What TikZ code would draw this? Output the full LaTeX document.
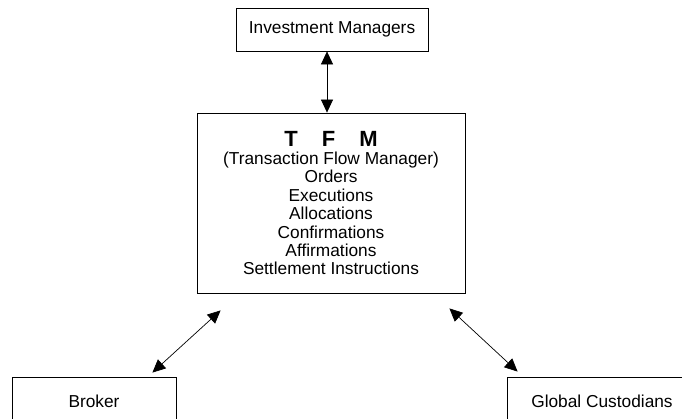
\documentclass[tikz,border=0pt]{standalone}
\usepackage{fontspec}
\setmainfont{Liberation Sans}
\usetikzlibrary{arrows.meta}

\begin{document}
\begin{tikzpicture}[x=1pt,y=-1pt,
  box/.style={draw,line width=0.8pt,inner sep=0pt,font=\fontsize{17.3}{18.4}\selectfont},
  link/.style={line width=0.7pt,{Triangle[length=13pt,width=12pt]}-{Triangle[length=13pt,width=12pt]}}]
\useasboundingbox (0,0) rectangle (682,419);
% Boxes
\node[box,minimum width=192,minimum height=43] (im) at (332,29.5) {Investment Managers};
\node[box,minimum width=268,minimum height=180,align=center] (tfm) at (331,203)
  {{\fontsize{22}{22}\selectfont\bfseries T\hspace{24pt}F\hspace{24pt}M}\\
   (Transaction Flow Manager)\\ Orders\\ Executions\\ Allocations\\
   Confirmations\\ Affirmations\\ Settlement Instructions};
\node[box,minimum width=164,minimum height=48] (brk) at (94,401) {Broker};
\node[box,minimum width=190,minimum height=48] (gc) at (602,401) {Global Custodians};
% Arrows
\draw[link] ([xshift=-5]im.south) -- ([xshift=-5]im.south |- tfm.north);
\draw[link] ([shift={(-24,-4)}]brk.north east) -- ([shift={(24,17)}]tfm.south west);
\draw[link] ([shift={(-16,15)}]tfm.south east) -- ([shift={(11,-5)}]gc.north west);
\end{tikzpicture}
\end{document}
